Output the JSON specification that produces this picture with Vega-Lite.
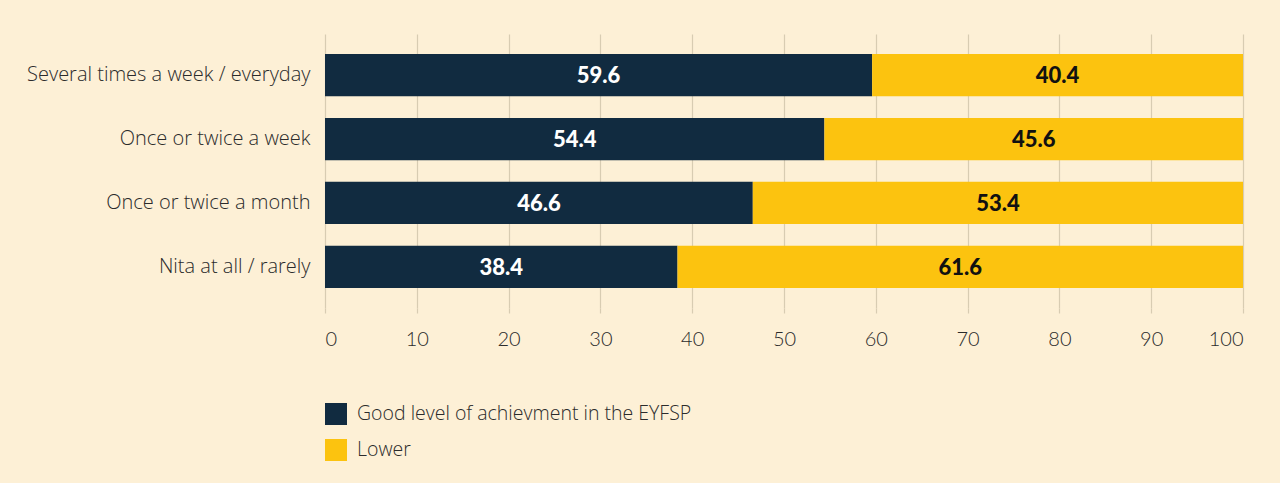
{
  "$schema": "https://vega.github.io/schema/vega-lite/v6.json",
  "autosize": "none",
  "width": 918,
  "height": 274,
  "padding": {"left": 325, "top": 34, "right": 37, "bottom": 175},
  "background": "#fdf0d6",
  "config": {"view": {"stroke": null}},
  "data": {
    "values": [
      {"freq": "Several times a week / everyday", "series": "Good level of achievment in the EYFSP", "value": 59.6},
      {"freq": "Several times a week / everyday", "series": "Lower", "value": 40.4},
      {"freq": "Once or twice a week", "series": "Good level of achievment in the EYFSP", "value": 54.4},
      {"freq": "Once or twice a week", "series": "Lower", "value": 45.6},
      {"freq": "Once or twice a month", "series": "Good level of achievment in the EYFSP", "value": 46.6},
      {"freq": "Once or twice a month", "series": "Lower", "value": 53.4},
      {"freq": "Nita at all / rarely", "series": "Good level of achievment in the EYFSP", "value": 38.4},
      {"freq": "Nita at all / rarely", "series": "Lower", "value": 61.6}
    ]
  },
  "transform": [
    {"stack": "value", "groupby": ["freq"], "sort": [{"field": "series", "order": "ascending"}], "as": ["v0", "v1"]},
    {"calculate": "(datum.v0 + datum.v1) / 2", "as": "mid"}
  ],
  "encoding": {
    "y": {
      "field": "freq", "type": "nominal", "sort": null, "title": null,
      "scale": {"paddingInner": 0.34, "paddingOuter": 0.3125},
      "axis": {"domain": false, "ticks": false, "labelPadding": 15, "labelFont": "Open Sans", "labelFontWeight": 300, "labelFontSize": 20, "labelColor": "#2b2b2b", "labelLimit": 400}
    }
  },
  "layer": [
    {
      "mark": {"type": "bar"},
      "encoding": {
        "x": {
          "field": "v0", "type": "quantitative", "title": null,
          "scale": {"domain": [0, 100], "nice": false},
          "axis": {"values": [0, 10, 20, 30, 40, 50, 60, 70, 80, 90, 100], "domain": false, "ticks": true, "tickColor": "#d8ccb2", "tickWidth": 1.2, "tickSize": 5, "grid": true, "gridColor": "#d8ccb2", "gridWidth": 1.2, "labelPadding": 16, "labelFont": "Lato", "labelFontWeight": 300, "labelFontSize": 20, "labelColor": "#2b2b2b"}
        },
        "x2": {"field": "v1"},
        "color": {
          "field": "series", "type": "nominal",
          "scale": {"domain": ["Good level of achievment in the EYFSP", "Lower"], "range": ["#112b40", "#fcc30f"]},
          "legend": {"title": null, "orient": "none", "legendX": 0, "legendY": 369, "direction": "vertical", "symbolType": "square", "symbolSize": 484, "symbolStrokeWidth": 0, "rowPadding": 14, "labelFont": "Open Sans", "labelFontWeight": 300, "labelFontSize": 19.5, "labelColor": "#2b2b2b", "labelOffset": 10, "labelLimit": 500}
        }
      }
    },
    {
      "mark": {"type": "text", "font": "Lato", "fontWeight": 900, "fontSize": 22, "baseline": "middle", "dy": 1},
      "encoding": {
        "x": {"field": "mid", "type": "quantitative"},
        "text": {"field": "value", "type": "quantitative", "format": ".1f"},
        "color": {"condition": {"test": "datum.series === 'Lower'", "value": "#111111"}, "value": "#ffffff"}
      }
    }
  ]
}
